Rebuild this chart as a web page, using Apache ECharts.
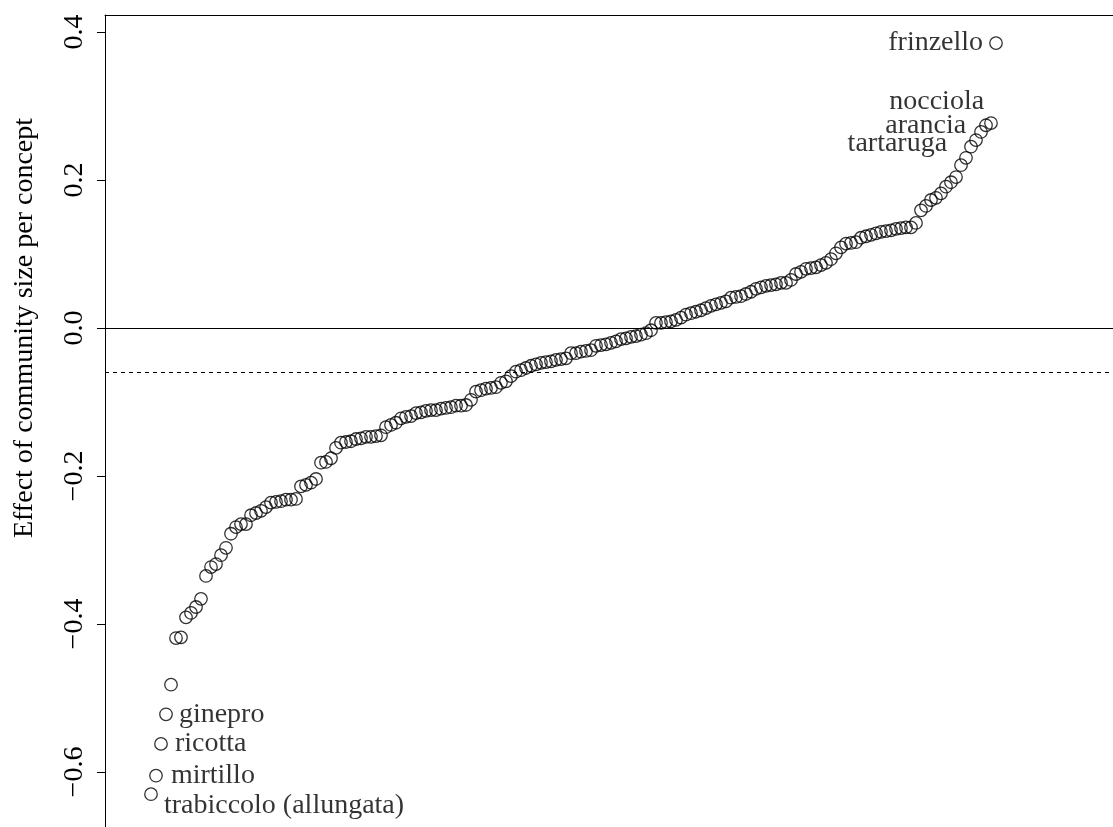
<!DOCTYPE html>
<html>
<head>
<meta charset="utf-8">
<script src="https://cdn.jsdelivr.net/npm/echarts@6/dist/echarts.min.js"></script>
<style>
html,body{margin:0;padding:0;background:#fff;}
#chart{width:1113px;height:827px;}
</style>
</head>
<body>
<div id="chart"></div>
<script>
// Sorted effect values per concept (rank 1..170)
const effects = [
-0.630,-0.605,-0.562,-0.522,-0.482,-0.419,-0.418,-0.391,-0.385,-0.377,
-0.366,-0.335,-0.323,-0.319,-0.307,-0.297,-0.278,-0.269,-0.265,-0.265,
-0.253,-0.250,-0.247,-0.242,-0.236,-0.235,-0.234,-0.232,-0.232,-0.231,
-0.214,-0.212,-0.209,-0.204,-0.182,-0.181,-0.176,-0.162,-0.155,-0.154,
-0.153,-0.150,-0.149,-0.147,-0.147,-0.146,-0.145,-0.134,-0.131,-0.128,
-0.122,-0.120,-0.119,-0.115,-0.114,-0.112,-0.111,-0.111,-0.109,-0.108,
-0.107,-0.105,-0.105,-0.104,-0.097,-0.086,-0.084,-0.082,-0.081,-0.080,
-0.074,-0.072,-0.065,-0.059,-0.057,-0.054,-0.051,-0.049,-0.047,-0.046,
-0.045,-0.043,-0.042,-0.041,-0.034,-0.034,-0.032,-0.031,-0.030,-0.024,
-0.023,-0.022,-0.020,-0.018,-0.015,-0.014,-0.012,-0.011,-0.009,-0.007,
-0.003,0.007,0.007,0.008,0.009,0.011,0.014,0.018,0.020,0.022,
0.024,0.027,0.030,0.032,0.034,0.036,0.041,0.042,0.043,0.046,
0.049,0.053,0.055,0.057,0.058,0.059,0.061,0.061,0.065,0.073,
0.076,0.080,0.081,0.082,0.085,0.088,0.093,0.101,0.109,0.114,
0.115,0.116,0.122,0.124,0.126,0.128,0.130,0.131,0.132,0.134,
0.135,0.136,0.136,0.142,0.159,0.165,0.173,0.176,0.182,0.191,
0.197,0.204,0.220,0.230,0.245,0.254,0.265,0.274,0.277,0.385
];
const annoNames = ['frinzello','nocciola','arancia','tartaruga','ginepro','ricotta','mirtillo','trabiccolo (allungata)'];
const annoRank  = [170,169,168,167,4,3,2,1];
const yTickValues = [-0.6,-0.4,-0.2,0.0,0.2,0.4];
const yTickLabels = ['\u22120.6','\u22120.4','\u22120.2','0.0','0.2','0.4'];
const zeroLine = 0;
const dashedLine = -0.061;
const yTitle = 'Effect of community size per concept';

// label placement styles (side, offset)
const labelStyle = {
  'frinzello': {position:'left', offset:[0,0]},
  'nocciola': {position:'left', offset:[6,-21]},
  'arancia': {position:'left', offset:[-7,0]},
  'tartaruga': {position:'left', offset:[-21,12]},
  'ginepro': {position:'right', offset:[0,0]},
  'ricotta': {position:'right', offset:[1,0]},
  'mirtillo': {position:'right', offset:[2,0]},
  'trabiccolo (allungata)': {position:'right', offset:[0,11]}
};

const FONT = '"Liberation Serif", "DejaVu Serif", serif';
const data = effects.map((v, i) => {
  const rank = i + 1;
  const k = annoRank.indexOf(rank);
  const item = {value: [rank, v]};
  if (k >= 0) {
    const nm = annoNames[k];
    const st = labelStyle[nm];
    item.label = {
      show: true, formatter: nm, position: st.position, offset: st.offset,
      distance: 6, color: '#000', fontFamily: FONT, fontSize: 28
    };
  }
  return item;
});

const chart = echarts.init(document.getElementById('chart'), null, {renderer: 'canvas'});
chart.setOption({
  animation: false,
  backgroundColor: '#fff',
  grid: {left: 105, top: 15, right: 0, bottom: 0, containLabel: false},
  graphic: [{
    type: 'text', x: 25, y: 328, rotation: Math.PI / 2, silent: true,
    style: {text: yTitle, fill: '#000', font: '28px ' + FONT, textAlign: 'center', textVerticalAlign: 'middle'}
  }],
  xAxis: {
    type: 'value', position: 'top', min: -8.2, max: 193.4,
    axisLine: {show: true, onZero: false, lineStyle: {color: '#000', width: 1}},
    axisTick: {show: false}, axisLabel: {show: false}, splitLine: {show: false}
  },
  yAxis: {
    type: 'value', min: -0.6743, max: 0.4230,
    axisLine: {show: true, onZero: false, lineStyle: {color: '#000', width: 1}},
    axisTick: {show: true, inside: false, length: 8, customValues: yTickValues, lineStyle: {color: '#000'}},
    axisLabel: {
      show: true, rotate: 90, margin: 16, customValues: yTickValues,
      color: '#000', fontFamily: FONT, fontSize: 28,
      formatter: (v) => { const k = yTickValues.findIndex(t => Math.abs(t - v) < 1e-9); return k >= 0 ? yTickLabels[k] : ''; }
    },
    splitLine: {show: false}
  },
  series: [{
    type: 'scatter',
    data: data,
    symbol: 'circle',
    symbolSize: 12.5,
    itemStyle: {color: 'rgba(0,0,0,0)', borderColor: '#000', borderWidth: 1.3},
    emphasis: {disabled: true},
    markLine: {
      silent: true, symbol: 'none', label: {show: false},
      data: [
        {yAxis: zeroLine, lineStyle: {color: '#000', width: 1, type: 'solid'}},
        {yAxis: dashedLine, lineStyle: {color: '#000', width: 1, type: [4, 4]}}
      ]
    }
  }]
});
</script>
</body>
</html>
